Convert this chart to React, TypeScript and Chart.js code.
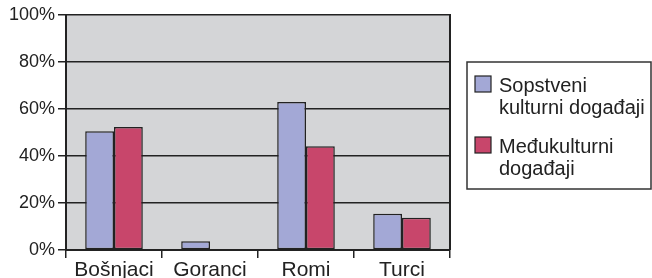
import React, { useEffect, useRef } from "react";
import { Chart, registerables } from "chart.js";

Chart.register(...registerables);

const categories = ["Bošnjaci", "Goranci", "Romi", "Turci"];
const seriesNames = [["Sopstveni", "kulturni događaji"], ["Međukulturni", "događaji"]];
const sopstveni = [50.5, 3.7, 63.0, 15.4];
const medjukulturni: (number | null)[] = [52.3, null, 44.1, 13.7];
const yTicks = [0, 20, 40, 60, 80, 100];

const BLUE = "#a3a8d6";
const RED = "#c8466b";
const DARK = "#222222";
const FONT = "'Liberation Sans', Arial, Helvetica, sans-serif";

const bgPlugin = {
  id: "bgPlugin",
  beforeDraw(chart: any) {
    const { ctx, chartArea } = chart;
    ctx.save();
    ctx.fillStyle = "#d4d5d7";
    ctx.fillRect(chartArea.left, chartArea.top, chartArea.right - chartArea.left, chartArea.bottom - chartArea.top);
    ctx.restore();
  },
  afterDatasetsDraw(chart: any) {
    const { ctx, chartArea } = chart;
    ctx.save();
    ctx.strokeStyle = DARK;
    ctx.lineWidth = 2;
    ctx.beginPath();
    ctx.moveTo(chartArea.right, chartArea.top - 1);
    ctx.lineTo(chartArea.right, chartArea.bottom);
    ctx.stroke();
    ctx.restore();
  },
  afterDraw(chart: any) {
    const { ctx, chartArea } = chart;
    const bx = chartArea.right + 17;
    const by = 62;
    const bw = 184;
    const bh = 127;
    ctx.save();
    ctx.fillStyle = "#ffffff";
    ctx.fillRect(bx, by, bw, bh);
    ctx.strokeStyle = "#333333";
    ctx.lineWidth = 1.5;
    ctx.strokeRect(bx, by, bw, bh);
    const colors = [BLUE, RED];
    ctx.font = `20px ${FONT}`;
    ctx.textBaseline = "alphabetic";
    ctx.textAlign = "left";
    seriesNames.forEach((lines, i) => {
      const base = by + 30 + i * 61;
      ctx.fillStyle = colors[i];
      ctx.fillRect(bx + 8, base - 16, 16, 16);
      ctx.strokeStyle = DARK;
      ctx.lineWidth = 1.2;
      ctx.strokeRect(bx + 8, base - 16, 16, 16);
      ctx.fillStyle = DARK;
      lines.forEach((t, j) => {
        ctx.fillText(t, bx + 32, base + j * 21.5);
      });
    });
    ctx.restore();
  },
};

export default function App() {
  const ref = useRef<HTMLCanvasElement>(null);
  useEffect(() => {
    if (!ref.current) return;
    const chart = new Chart(ref.current, {
      type: "bar",
      data: {
        labels: categories,
        datasets: [
          {
            label: seriesNames[0].join(" "),
            data: sopstveni,
            backgroundColor: BLUE,
            borderColor: DARK,
            borderWidth: 1.5,
            borderSkipped: false,
            barPercentage: 1.0,
            categoryPercentage: 0.6,
          },
          {
            label: seriesNames[1].join(" "),
            data: medjukulturni,
            backgroundColor: RED,
            borderColor: DARK,
            borderWidth: 1.5,
            borderSkipped: false,
            barPercentage: 1.0,
            categoryPercentage: 0.6,
          },
        ],
      },
      options: {
        responsive: false,
        animation: false,
        layout: { padding: { left: 0, top: 15, right: 202, bottom: 0 } },
        plugins: { legend: { display: false }, tooltip: { enabled: false } },
        scales: {
          x: {
            afterFit(scale: any) {
              scale.height = 28;
            },
            grid: {
              display: true,
              drawOnChartArea: false,
              drawTicks: true,
              tickLength: 8,
              color: DARK,
              lineWidth: 1.5,
              offset: true,
            },
            border: { display: true, color: DARK, width: 2 },
            ticks: { color: DARK, font: { family: FONT, size: 21 }, padding: 0 },
          },
          y: {
            min: 0,
            max: 100,
            afterFit(scale: any) {
              scale.width = 66;
            },
            afterBuildTicks(scale: any) {
              scale.ticks = yTicks.map((v) => ({ value: v }));
            },
            grid: {
              display: true,
              drawOnChartArea: true,
              drawTicks: true,
              tickLength: 8,
              color: DARK,
              lineWidth: 1.5,
            },
            border: { display: true, color: DARK, width: 2 },
            ticks: {
              color: DARK,
              font: { family: FONT, size: 18 },
              padding: 3,
              callback: (v: any) => `${v}%`,
            },
          },
        },
      },
      plugins: [bgPlugin],
    });
    return () => chart.destroy();
  }, []);
  return (
    <div style={{ position: "absolute", left: 0, top: 0, width: 652, height: 278 }}>
      <canvas ref={ref} width={652} height={278} />
    </div>
  );
}
